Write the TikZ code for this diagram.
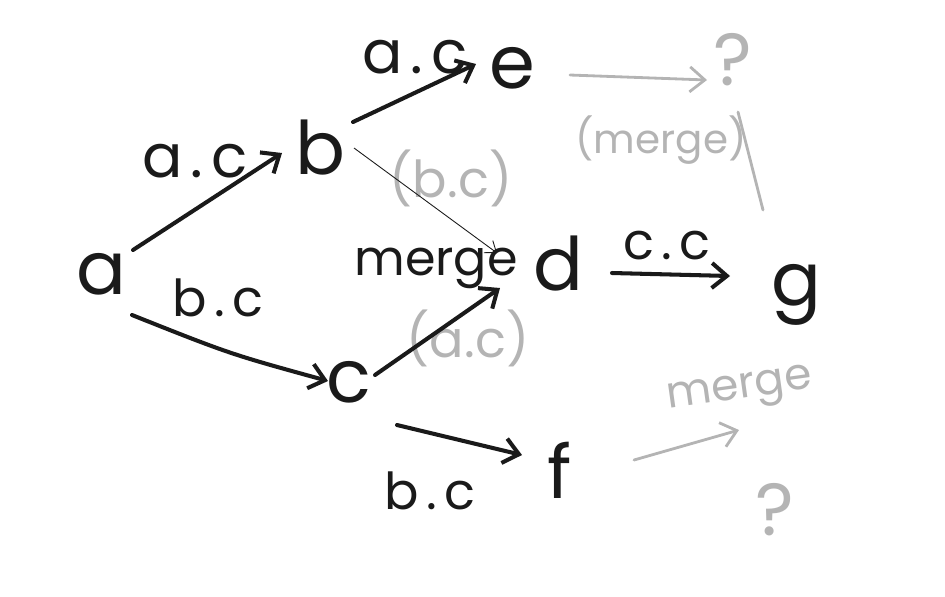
\documentclass[tikz,border=0pt]{standalone}
\usepackage{fontspec}
\setmainfont{Poppins}
\newfontfamily\spacedfont[LetterSpace=14]{Poppins}
\usetikzlibrary{arrows.meta, calc}
\definecolor{pencil}{RGB}{26,26,26}
\definecolor{lightpencil}{RGB}{180,180,180}
\tikzstyle{letter} = [text=pencil, inner sep=0pt, font=\fontsize{42}{46}\selectfont]
\tikzstyle{tag} = [text=pencil, inner sep=0pt, font=\spacedfont\fontsize{29}{32}\selectfont]
\tikzstyle{bigtag} = [tag, font=\spacedfont\fontsize{34}{38}\selectfont]
\tikzstyle{faint} = [text=lightpencil, inner sep=0pt, font=\fontsize{29}{32}\selectfont]
\tikzstyle{arrow} = [-{Straight Barb[length=3mm, width=5mm]}, pencil, line width=2.3pt, line cap=round]
\tikzstyle{hairarrow} = [-{Straight Barb[length=2mm, width=3mm]}, pencil, line width=0.5pt]
\tikzstyle{faintarrow} = [-{Straight Barb[length=3mm, width=5mm]}, lightpencil, line width=1.6pt, line cap=round]

\begin{document}
\begin{tikzpicture}[x=0.02cm, y=-0.02cm]
    \useasboundingbox (0,0) rectangle (945,596);
    % Place the letters
    \node [letter] (a) at (101,274) {a};
    \node [letter] (b) at (320,148) {b};
    \node [letter] (c) at (349,382) {c};
    \node [letter] (d) at (558,264) {d};
    \node [letter] (e) at (512,68) {e};
    \node [letter] (f) at (560,470) {f};
    \node [letter] (g) at (796,295) {g};
    \node [letter, text=lightpencil] (qtop) at (733,60) {?};
    \node [letter, text=lightpencil] (qbot) at (775,510) {?};

    % Labels
    \node [bigtag] (ab) at (195,161) {a.c};
    \node [tag] (ac) at (218,298) {b.c};
    \node [bigtag] (be) at (415,57) {a.c};
    \node [tag] (dg) at (667,246) {c.c};
    \node [tag] (cf) at (430,491) {b.c};
    \node [tag, font=\fontsize{28}{32}\selectfont] (merged) at (436,268) {merge};
    \node [faint] (bd) at (451,178) {(b.c)};
    \node [faint] (cd) at (468,338) {(a.c)};
    \node [faint, font=\fontsize{23}{26}\selectfont] (mergetop) at (661,140) {(merge)};
    \node [faint, font=\fontsize{25}{28}\selectfont, rotate=8] (mergebot) at (740,392) {merge};

    % Connect the letters
    \draw [arrow] ($(a)+(32,-24)$) -- ($(b)+(-38,5)$);
    \draw [arrow] ($(a)+(31,41)$) .. controls ($(a)!0.5!(c)+(5,26)$) .. ($(c)+(-21,-1)$);
    \draw [arrow] ($(b)+(33,-26)$) -- ($(e)+(-36,-4)$);
    \draw [hairarrow] ($(b)+(34,0)$) -- ($(d)+(-61,-11)$);
    \draw [arrow] ($(c)+(26,-7)$) -- ($(d)+(-58,24)$);
    \draw [arrow] ($(d)+(54,9)$) -- ($(g)+(-66,-19)$);
    \draw [arrow] ($(c)+(48,43)$) -- ($(f)+(-38,-15)$);
    \draw [faintarrow] ($(e)+(58,7)$) -- ($(qtop)+(-26,20)$);
    \draw [faintarrow, -] ($(g)+(-33,-85)$) -- ($(qtop)+(5,52)$);
    \draw [faintarrow] ($(f)+(74,-10)$) -- ($(qbot)+(-36,-80)$);
\end{tikzpicture}
\end{document}
